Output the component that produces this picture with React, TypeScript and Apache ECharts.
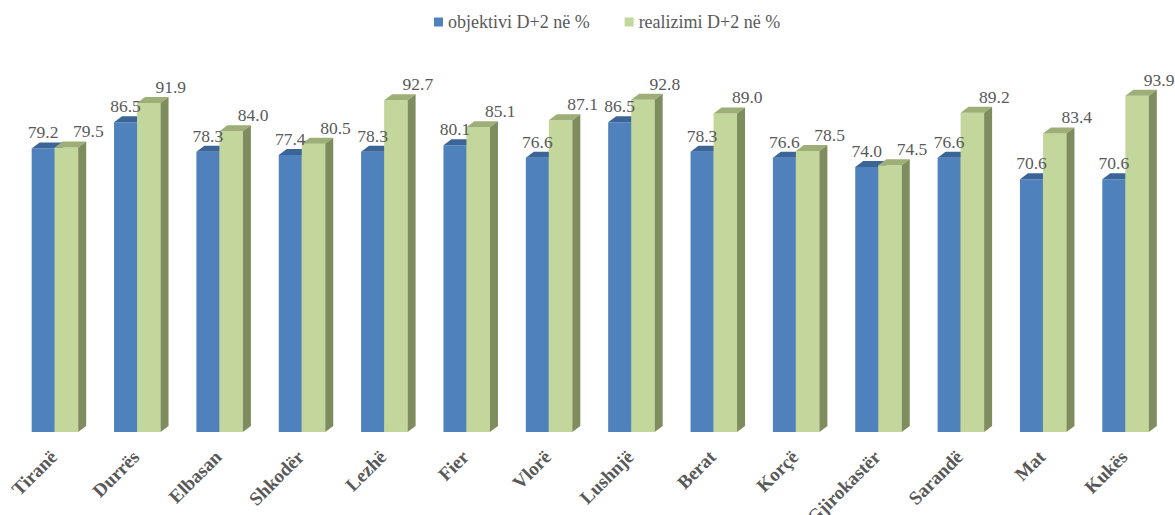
import React, { useEffect, useRef } from "react";
import * as echarts from "echarts";

const categories = ["Tiranë", "Durrës", "Elbasan", "Shkodër", "Lezhë", "Fier", "Vlorë", "Lushnjë", "Berat", "Korçë", "Gjirokastër", "Sarandë", "Mat", "Kukës"];
const objektivi = [79.2, 86.5, 78.3, 77.4, 78.3, 80.1, 76.6, 86.5, 78.3, 76.6, 74.0, 76.6, 70.6, 70.6];
const realizimi = [79.5, 91.9, 84.0, 80.5, 92.7, 85.1, 87.1, 92.8, 89.0, 78.5, 74.5, 89.2, 83.4, 93.9];
const seriesNames = ["objektivi D+2 në %", "realizimi D+2 në %"];

const SERIF = "Liberation Serif, Times New Roman, serif";
const DEPTH_X = 8;
const DEPTH_Y = 6;

function makeRender(opts: { dx: number; w: number; front: string; top: string; side: string; labelDx: number }) {
  return (params: any, api: any) => {
    const idx = api.value(0);
    const v = api.value(1);
    const base = api.coord([idx, 0]);
    const topPt = api.coord([idx, v]);
    const c = base[0];
    const x0 = c + opts.dx;
    const w = opts.w;
    const ty = topPt[1];
    const by = base[1];
    return {
      type: "group",
      children: [
        {
          type: "rect",
          shape: { x: x0, y: ty, width: w, height: by - ty },
          style: { fill: opts.front },
        },
        {
          type: "polygon",
          shape: { points: [[x0, ty], [x0 + w, ty], [x0 + w + DEPTH_X, ty - DEPTH_Y], [x0 + DEPTH_X, ty - DEPTH_Y]] },
          style: { fill: opts.top },
        },
        {
          type: "polygon",
          shape: { points: [[x0 + w, ty], [x0 + w + DEPTH_X, ty - DEPTH_Y], [x0 + w + DEPTH_X, by - DEPTH_Y], [x0 + w, by]] },
          style: { fill: opts.side },
        },
        {
          type: "text",
          z2: 100,
          style: {
            text: v.toFixed(1),
            x: x0 + w / 2 + opts.labelDx,
            y: ty - 16,
            align: "center",
            verticalAlign: "middle",
            fill: "#595959",
            fontFamily: SERIF,
            fontSize: 17.5,
          },
        },
      ],
    };
  };
}

export default function App() {
  const ref = useRef<HTMLDivElement>(null);
  useEffect(() => {
    if (!ref.current) return;
    const chart = echarts.init(ref.current, undefined, { renderer: "svg" });
    chart.setOption({
      animation: false,
      backgroundColor: "#ffffff",
      legend: {
        top: 8,
        left: 429,
        icon: "rect",
        itemWidth: 9,
        itemHeight: 9,
        itemGap: 35,
        textStyle: { fontFamily: SERIF, fontSize: 18, color: "#595959" },
        data: seriesNames,
      },
      grid: { left: 18, right: 4, top: 74, bottom: 83, outerBoundsMode: "none", containLabel: false },
      xAxis: {
        type: "category",
        data: categories,
        axisLine: { show: false },
        axisTick: { show: false },
        axisLabel: {
          interval: 0,
          rotate: 45,
          margin: 16,
          padding: [0, 8, 0, 0],
          fontFamily: SERIF,
          fontWeight: "bold",
          fontSize: 19,
          color: "#595959",
        },
      },
      yAxis: { type: "value", min: 0, max: 100, show: false },
      series: [
        {
          name: seriesNames[0],
          type: "custom",
          itemStyle: { color: "#4F81BD" },
          renderItem: makeRender({ dx: -27.5, w: 23, front: "#4F81BD", top: "#3B6497", side: "#3A6190", labelDx: 0 }),
          data: objektivi.map((v, i) => [i, v]),
        },
        {
          name: seriesNames[1],
          type: "custom",
          itemStyle: { color: "#C3D69B" },
          renderItem: makeRender({ dx: -4.5, w: 23.5, front: "#C3D69B", top: "#9DAE76", side: "#7F8C5E", labelDx: 22 }),
          data: realizimi.map((v, i) => [i, v]),
        },
      ],
    });
    return () => chart.dispose();
  }, []);
  return <div ref={ref} style={{ position: "fixed", left: 0, top: 0, width: 1175, height: 515 }} />;
}
